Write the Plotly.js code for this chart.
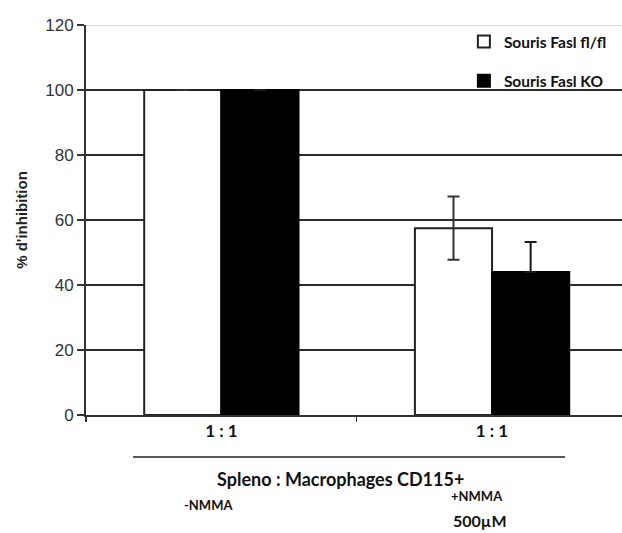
<!DOCTYPE html>
<html>
<head>
<meta charset="utf-8">
<script src="https://cdn.plot.ly/plotly-3.0.1.min.js"></script>
<style>body{margin:0;background:#fff}#chart{width:622px;height:533px}</style>
</head>
<body>
<div id="chart"></div>
<script>
// Data
const categories = ["-NMMA", "+NMMA"];
const tickLabels = ["1 : 1", "1 : 1"];
const seriesNames = ["Souris Fasl fl/fl", "Souris Fasl KO"];
const flflValues = [100, 57.5];
const flflErrors = [0, 9.7];
const koValues = [100, 44];
const koErrorsPlus = [0, 9.2];
const koErrorsMinus = [0, 0];

const traces = [
  {
    type: "bar", name: seriesNames[0], x: categories, y: flflValues,
    marker: {color: "#ffffff", line: {color: "#222", width: 2}},
    error_y: {type: "data", array: flflErrors, visible: true, color: "#333", thickness: 2, width: 6},
    legendgroup: "a"
  },
  {
    type: "bar", name: seriesNames[1], x: categories, y: koValues,
    marker: {color: "#000000", line: {color: "#000", width: 2}},
    error_y: {type: "data", symmetric: false, array: koErrorsPlus, arrayminus: koErrorsMinus, visible: true, color: "#1a1a1a", thickness: 2, width: 6},
    legendgroup: "b"
  }
];

const F = "Lato, 'Open Sans', sans-serif";
const A = "Liberation Sans, Arial, sans-serif";
const layout = {
  width: 622, height: 533,
  margin: {l: 86, r: 0, t: 25, b: 118},
  paper_bgcolor: "#fff", plot_bgcolor: "#fff",
  barmode: "group", bargap: 0.43, bargroupgap: 0,
  showlegend: true,
  legend: {
    x: 0.705, xanchor: "left", y: 1.0, yanchor: "top",
    traceorder: "grouped", tracegroupgap: 16,
    font: {family: F, size: 15.5, color: "#111", weight: "bold"},
    bgcolor: "rgba(255,255,255,0)"
  },
  xaxis: {
    type: "category", range: [-0.5, 1.48],
    tickvals: categories, ticktext: tickLabels,
    tickson: "boundaries", ticks: "outside", ticklen: 5, tickcolor: "#333", tickwidth: 1.5,
    showline: true, linecolor: "#333", linewidth: 2,
    showgrid: false,
    tickfont: {family: F, size: 17, color: "#111", weight: "bold"}
  },
  yaxis: {
    range: [0, 120], dtick: 20, tick0: 0,
    ticks: "outside", ticklen: 7, tickcolor: "#333", tickwidth: 1.5,
    showline: true, linecolor: "#333", linewidth: 2,
    showgrid: true, gridcolor: "#2a2a2a", gridwidth: 1.5,
    zeroline: false,
    tickfont: {family: A, size: 17, color: "#333"},
    title: {text: "% d'inhibition", font: {family: A, size: 15, color: "#222", weight: "bold"}, standoff: 14}
  },
  shapes: [
    {type: "line", xref: "paper", yref: "y", x0: 0, x1: 1, y0: 120, y1: 120, line: {color: "#d8d8d8", width: 2}, layer: "above"},
    {type: "line", xref: "paper", yref: "paper", x0: (133-86)/536, x1: (565-86)/536, y0: -(457-415)/390, y1: -(457-415)/390, line: {color: "#222", width: 1.5}}
  ],
  annotations: [
    {xref: "paper", yref: "paper", x: (340-86)/536, y: -(479-415)/390, text: "Spleno : Macrophages CD115+", showarrow: false, xanchor: "center", yanchor: "middle", font: {family: F, size: 18, color: "#111", weight: "bold"}},
    {xref: "paper", yref: "paper", x: (208-86)/536, y: -(505-415)/390, text: "-NMMA", showarrow: false, xanchor: "center", yanchor: "middle", font: {family: F, size: 13, color: "#111", weight: "bold"}},
    {xref: "paper", yref: "paper", x: (477-86)/536, y: -(496-415)/390, text: "+NMMA", showarrow: false, xanchor: "center", yanchor: "middle", font: {family: F, size: 13, color: "#111", weight: "bold"}},
    {xref: "paper", yref: "paper", x: (480-86)/536, y: -(520-415)/390, text: "500µM", showarrow: false, xanchor: "center", yanchor: "middle", font: {family: F, size: 16, color: "#111", weight: "bold"}}
  ]
};

Plotly.newPlot("chart", traces, layout, {displayModeBar: false, staticPlot: true});
</script>
</body>
</html>
